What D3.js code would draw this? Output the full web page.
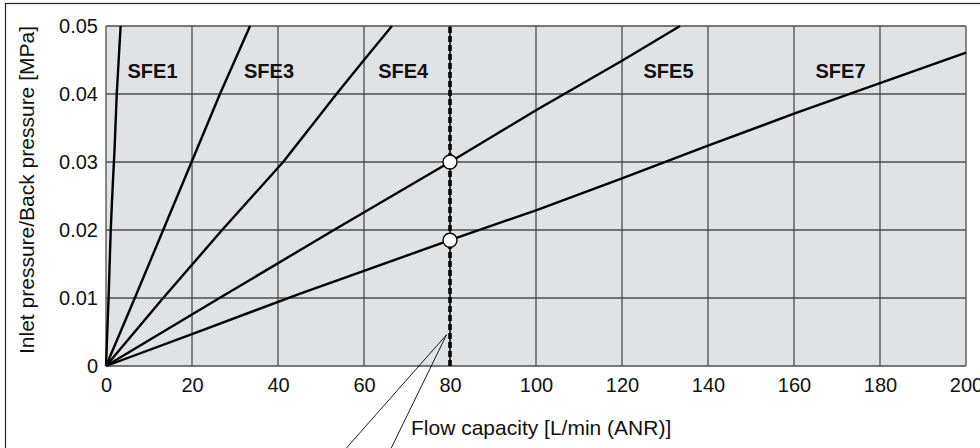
<!DOCTYPE html>
<html>
<head>
<meta charset="utf-8">
<script src="https://cdn.jsdelivr.net/npm/d3@7"></script>
<style>
  body { margin: 0; background: #fff; }
  svg { display: block; font-family: "Liberation Sans", Arial, Helvetica, sans-serif; }
</style>
</head>
<body>
<svg id="chart"></svg>
<script>
// values
var xTicks = [0, 20, 40, 60, 80, 100, 120, 140, 160, 180, 200];
var yTicks = [0, 0.01, 0.02, 0.03, 0.04, 0.05];
var yTickLabels = ["0", "0.01", "0.02", "0.03", "0.04", "0.05"];

var sfe1Flow = [0, 0.6, 1.1, 1.6, 2.0, 2.5, 3.4];
var sfe1Pres = [0, 0.01, 0.02, 0.027, 0.032, 0.04, 0.05];

var sfe3Flow = [0, 6.7, 13.3, 19.9, 26.5, 33.5];
var sfe3Pres = [0, 0.01, 0.02, 0.03, 0.04, 0.05];

var sfe4Flow = [0, 13.3, 27, 41.2, 47.4, 53.6, 60, 66.5];
var sfe4Pres = [0, 0.01, 0.02, 0.03, 0.035, 0.04, 0.045, 0.05];

var sfe5Flow = [0, 26.4, 53, 80, 100, 120, 133.5];
var sfe5Pres = [0, 0.01, 0.02, 0.03, 0.0376, 0.0449, 0.05];

var sfe7Flow = [0, 20, 45, 60, 80, 100, 120, 140, 160, 180, 200];
var sfe7Pres = [0, 0.0047, 0.0106, 0.014, 0.0185, 0.0229, 0.0276, 0.0324, 0.0371, 0.0416, 0.0461];

var seriesNames = ["SFE1", "SFE3", "SFE4", "SFE5", "SFE7"];
var labelFlow = [5.0, 32.1, 63.3, 125.0, 165.0];
var labelPres = [0.0424, 0.0424, 0.0424, 0.0424, 0.0424];

var markerFlow = 80;
var markerPres = [0.03, 0.0185];

var calloutTip = [79.2, 0.0046];
var calloutEnds = [[55.3, -0.0125], [66.0, -0.0125]];

var width = 980, height = 448;
var margin = {left: 106, right: 14, top: 26, bottom: 82};

var svg = d3.select("#chart")
  .attr("width", width)
  .attr("height", height);

// outer frame (only top and left edges are inside the picture)
svg.append("rect")
  .attr("x", 5.5).attr("y", 3.5)
  .attr("width", 1000).attr("height", 500)
  .attr("fill", "none")
  .attr("stroke", "#222")
  .attr("stroke-width", 1.2);

var x = d3.scaleLinear()
  .domain([0, 200])
  .range([margin.left, width - margin.right]);

var y = d3.scaleLinear()
  .domain([0, 0.05])
  .range([height - margin.bottom, margin.top]);

// plot background
svg.append("rect")
  .attr("x", x(0)).attr("y", y(0.05))
  .attr("width", x(200) - x(0))
  .attr("height", y(0) - y(0.05))
  .attr("fill", "#e1e2e4");

// grid
svg.append("g")
  .selectAll("line")
  .data(xTicks)
  .join("line")
  .attr("x1", d => x(d)).attr("x2", d => x(d))
  .attr("y1", y(0)).attr("y2", y(0.05))
  .attr("stroke", "#4d4d4d")
  .attr("stroke-width", 1.3);

svg.append("g")
  .selectAll("line")
  .data(yTicks)
  .join("line")
  .attr("x1", x(0)).attr("x2", x(200))
  .attr("y1", d => y(d)).attr("y2", d => y(d))
  .attr("stroke", "#4d4d4d")
  .attr("stroke-width", 1.3);

// axes (text only, lines are the grid)
var xAxis = svg.append("g")
  .attr("transform", "translate(0," + y(0) + ")")
  .call(d3.axisBottom(x).tickValues(xTicks).tickSize(0).tickPadding(12));
xAxis.select(".domain").remove();
xAxis.selectAll("text")
  .attr("font-size", 20)
  .attr("font-family", "Liberation Sans, Arial, sans-serif")
  .attr("fill", "#111");

var yAxis = svg.append("g")
  .attr("transform", "translate(" + x(0) + ",0)")
  .call(d3.axisLeft(y).tickValues(yTicks).tickSize(0).tickPadding(8)
    .tickFormat((d, i) => yTickLabels[i]));
yAxis.select(".domain").remove();
yAxis.selectAll("text")
  .attr("font-size", 20)
  .attr("font-family", "Liberation Sans, Arial, sans-serif")
  .attr("fill", "#111");

// axis titles
svg.append("text")
  .attr("x", 411).attr("y", 435)
  .attr("font-size", 21)
  .attr("fill", "#111")
  .text("Flow capacity [L/min (ANR)]");

svg.append("text")
  .attr("transform", "translate(34,190) rotate(-90)")
  .attr("text-anchor", "middle")
  .attr("font-size", 21)
  .attr("fill", "#111")
  .text("Inlet pressure/Back pressure [MPa]");

// flow curves
var series = [
  d3.zip(sfe1Flow, sfe1Pres),
  d3.zip(sfe3Flow, sfe3Pres),
  d3.zip(sfe4Flow, sfe4Pres),
  d3.zip(sfe5Flow, sfe5Pres),
  d3.zip(sfe7Flow, sfe7Pres)
];

var line = d3.line()
  .x(d => x(d[0]))
  .y(d => y(d[1]));

svg.append("g")
  .selectAll("path")
  .data(series)
  .join("path")
  .attr("d", line)
  .attr("fill", "none")
  .attr("stroke", "#000")
  .attr("stroke-width", 2.4)
  .attr("stroke-linejoin", "round");

// series labels
svg.append("g")
  .selectAll("text")
  .data(seriesNames)
  .join("text")
  .attr("x", (d, i) => x(labelFlow[i]))
  .attr("y", (d, i) => y(labelPres[i]))
  .attr("font-size", 20)
  .attr("font-weight", "bold")
  .attr("fill", "#111")
  .text(d => d);

// dashed marker line at 80
svg.append("line")
  .attr("x1", x(markerFlow)).attr("x2", x(markerFlow))
  .attr("y1", y(0)).attr("y2", y(0.05))
  .attr("stroke", "#000")
  .attr("stroke-width", 1.2);
svg.append("line")
  .attr("x1", x(markerFlow)).attr("x2", x(markerFlow))
  .attr("y1", y(0)).attr("y2", y(0.05))
  .attr("stroke", "#000")
  .attr("stroke-width", 3.6)
  .attr("stroke-dasharray", "6,3");

// callout lines
svg.append("g")
  .selectAll("line")
  .data(calloutEnds)
  .join("line")
  .attr("x1", x(calloutTip[0])).attr("y1", y(calloutTip[1]))
  .attr("x2", d => x(d[0])).attr("y2", d => y(d[1]))
  .attr("stroke", "#000")
  .attr("stroke-width", 0.9);

// intersection circles
svg.append("g")
  .selectAll("circle")
  .data(markerPres)
  .join("circle")
  .attr("cx", x(markerFlow))
  .attr("cy", d => y(d))
  .attr("r", 7)
  .attr("fill", "#fff")
  .attr("stroke", "#000")
  .attr("stroke-width", 1.4);
</script>
</body>
</html>
